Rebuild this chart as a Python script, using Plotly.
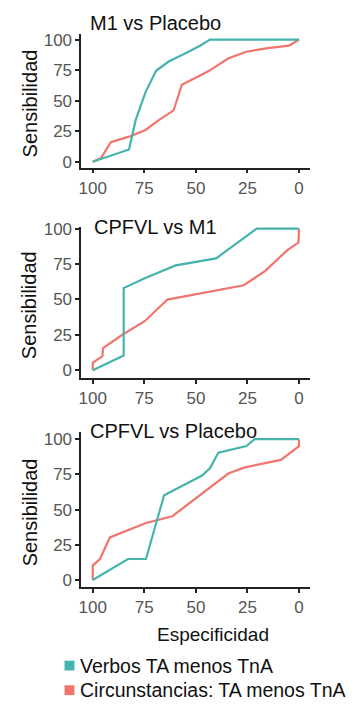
import plotly.graph_objects as go

FONT = "Liberation Sans, Arial, sans-serif"
TEAL = "#45B4AC"
RED = "#F0756C"

panel_titles = ["M1 vs Placebo", "CPFVL vs M1", "CPFVL vs Placebo"]
series_names = ["Verbos TA menos TnA", "Circunstancias: TA menos TnA"]
tick_vals = [0, 25, 50, 75, 100]
tick_text = ["0", "25", "50", "75", "100"]

# Panel 1: M1 vs Placebo
p1_verbos_spec = [100, 82.4, 79.2, 74.4, 69.3, 63.2, 53.6, 48, 43.2, 0]
p1_verbos_sens = [0, 10, 34, 57, 74.4, 82, 90, 95, 100, 100]
p1_circ_spec = [100, 96, 91.2, 82.4, 74.4, 68, 60.8, 56.8, 44, 34.4, 25.6, 15.2, 4.8, 0]
p1_circ_sens = [0, 3, 16, 20.5, 26, 34, 42, 63, 74, 84.5, 90, 93, 95, 100]

# Panel 2: CPFVL vs M1
p2_verbos_spec = [100, 85, 85, 74.8, 59.8, 40.2, 20.5, 0]
p2_verbos_sens = [0, 10.4, 58, 65, 74, 79, 100, 100]
p2_circ_spec = [100, 100, 95.3, 95, 85.8, 74.8, 63.8, 26.8, 16.5, 5.5, 0.3, 0]
p2_circ_sens = [0, 5.3, 9.9, 15.7, 24.9, 34.6, 49.9, 60, 70, 85, 90, 100]

# Panel 3: CPFVL vs Placebo
p3_verbos_spec = [100, 82.9, 74.2, 65.4, 47, 43.1, 39.1, 25.5, 21.5, 0]
p3_verbos_sens = [0, 14.9, 14.9, 60.2, 74.2, 79.5, 90.5, 95.1, 100, 100]
p3_circ_spec = [100, 100, 96.5, 91.7, 74.2, 61.4, 34.3, 26.3, 8.8, 0, 0]
p3_circ_sens = [0, 10.2, 14.9, 30.2, 40.5, 45.3, 75.6, 80, 85.3, 95.1, 100]

panels = [
    (p1_verbos_spec, p1_verbos_sens, p1_circ_spec, p1_circ_sens),
    (p2_verbos_spec, p2_verbos_sens, p2_circ_spec, p2_circ_sens),
    (p3_verbos_spec, p3_verbos_sens, p3_circ_spec, p3_circ_sens),
]

# page body has an 8px margin: work in window pixels and subtract it
OFF = 8
W, H = 354 - OFF, 706 - OFF


def px_x(p):
    return (p - OFF) / W


def px_y(p):
    return 1 - (p - OFF) / H


# pixel layout of each panel: (top, bottom, y-range)
panel_px = [(27, 163, [-4.8, 104.8]), (223, 377, [-5.6, 101.4]), (432, 589, [-4.9, 104.9])]
x_left, x_right = 79, 310
x_range = [105.5, -5.5]

fig = go.Figure()
for i, (vs, vy, cs, cy) in enumerate(panels):
    ax = "" if i == 0 else str(i + 1)
    fig.add_trace(go.Scatter(x=cs, y=cy, mode="lines", line=dict(color=RED, width=2.2),
                             name=series_names[1], showlegend=False,
                             xaxis="x" + ax, yaxis="y" + ax))
    fig.add_trace(go.Scatter(x=vs, y=vy, mode="lines", line=dict(color=TEAL, width=2.2),
                             name=series_names[0], showlegend=False,
                             xaxis="x" + ax, yaxis="y" + ax))

axis_common = dict(showline=True, linecolor="#222222", linewidth=1.8, ticks="outside",
                   ticklen=4, tickwidth=1.8, tickcolor="#222222", showgrid=False,
                   zeroline=False, tickvals=tick_vals, ticktext=tick_text,
                   tickfont=dict(family=FONT, size=17, color="#555555"))

layout = dict(width=W, height=H, margin=dict(l=0, r=0, t=0, b=0),
              paper_bgcolor="white", plot_bgcolor="white", showlegend=False)
annotations = []
shapes = []
title_y = [16, 223, 431]
title_x = [86, 90, 86]
for i, (top, bottom, yr) in enumerate(panel_px):
    ax = "" if i == 0 else str(i + 1)
    layout["xaxis" + ax] = dict(axis_common, domain=[px_x(x_left), px_x(x_right)], range=x_range,
                                anchor="y" + ax)
    layout["yaxis" + ax] = dict(axis_common, domain=[px_y(bottom), px_y(top)], range=yr,
                                anchor="x" + ax)
    annotations.append(dict(text=panel_titles[i], x=px_x(title_x[i]), y=px_y(title_y[i]),
                            xref="paper", yref="paper", xanchor="left", yanchor="middle",
                            showarrow=False, font=dict(family=FONT, size=20, color="#111111")))
    annotations.append(dict(text="Sensibilidad", x=px_x(27), y=px_y((top + bottom) / 2 + 3),
                            xref="paper", yref="paper", xanchor="center", yanchor="middle",
                            textangle=-90, showarrow=False,
                            font=dict(family=FONT, size=20, color="#111111")))

annotations.append(dict(text="Especificidad", x=px_x(212), y=px_y(637), xref="paper", yref="paper",
                        xanchor="center", yanchor="middle", showarrow=False,
                        font=dict(family=FONT, size=19, color="#111111")))

for j, (name, col, cy) in enumerate([(series_names[0], TEAL, 669), (series_names[1], RED, 694)]):
    shapes.append(dict(type="rect", xref="paper", yref="paper", x0=px_x(62), x1=px_x(72),
                       y0=px_y(cy + 5), y1=px_y(cy - 5), fillcolor=col, line=dict(width=0)))
    annotations.append(dict(text=name, x=px_x(76), y=px_y(cy), xref="paper", yref="paper",
                            xanchor="left", yanchor="middle", showarrow=False,
                            font=dict(family=FONT, size=19.5, color="#111111")))

layout["annotations"] = annotations
layout["shapes"] = shapes
fig.update_layout(**layout)
fig.write_html("out.html")
